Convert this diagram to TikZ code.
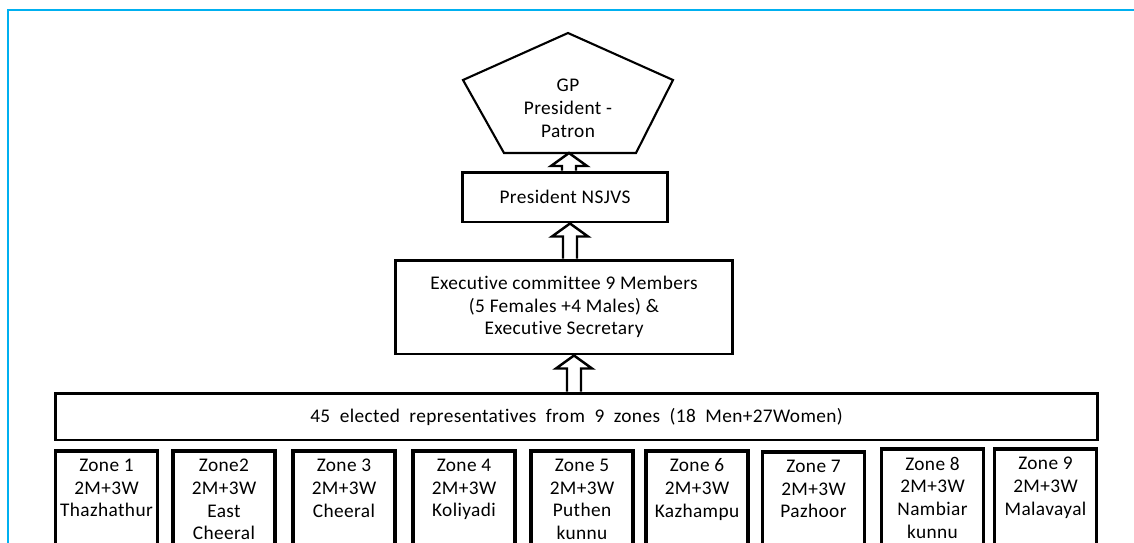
\documentclass[tikz,border=0pt]{standalone}
\usepackage{fontspec}
\setmainfont{Carlito}[Ligatures=NoCommon, LetterSpace=2]
\newfontfamily\widefont{Carlito}[Ligatures=NoCommon, LetterSpace=2, WordSpace=2]
\usetikzlibrary{calc}
\definecolor{framecol}{RGB}{0,176,240}

\begin{document}
\begin{tikzpicture}[x=0.02cm, y=-0.02cm,
    font=\fontsize{11}{13}\selectfont,
    box/.style={draw, line width=1.7pt, inner sep=0pt, align=center},
    zone/.style={draw, line width=2pt, anchor=north, minimum width=2.04cm, minimum height=2.26cm},
    zonetext/.style={anchor=north, inner sep=0pt, yshift=-5.4pt, align=center},
    uparrow/.style={line width=1.4pt, fill=white, to path={
        let \p1=(\tikztostart), \p2=(\tikztotarget) in
        (\x1-0.14cm,\y1) -- (\x1-0.14cm,\y2-0.26cm) -- (\x1-0.36cm,\y2-0.26cm)
        -- (\x1,\y2) -- (\x1+0.36cm,\y2-0.26cm) -- (\x1+0.14cm,\y2-0.26cm)
        -- (\x1+0.14cm,\y1)}}]
    \useasboundingbox (0,0) rectangle (1134,542);
    \clip (0,0) rectangle (1134,542);

    % --- Blue frame ---
    \draw[framecol, line width=1.4pt] (8,560) -- (8,10) -- (1150,10);

    % --- Pentagon on top ---
    \draw[line width=1.2pt] (568,33) -- (463,80) -- (504,153) -- (636,153) -- (673,80) -- cycle;
    \node[align=center, inner sep=0pt] (gp) at (568,108) {GP\\President -\\Patron};
    \coordinate (gpbase) at (568,153);

    % --- Boxes ---
    \node[box, minimum width=4.12cm, minimum height=1.0cm] (pres) at (565,197) {President NSJVS};
    \node[box, minimum width=6.76cm, minimum height=1.88cm] (exec) at (564,307)
        {Executive committee 9 Members\\(5 Females +4 Males) \&\\Executive Secretary};
    \node[box, minimum width=20.86cm, minimum height=0.94cm, font=\widefont\fontsize{11}{13}\selectfont] (reps) at (576.5,416.5)
        {45 elected representatives from 9 zones (18 Men+27Women)};

    % --- Zones ---
    \node[zone] (z1) at (106.5,449) {};
    \node[zonetext] (t1) at (z1.north) {Zone 1\\2M+3W\\Thazhathur};
    \node[zone] (z2) at (224,449) {};
    \node[zonetext] (t2) at (z2.north) {Zone2\\2M+3W\\East\\Cheeral};
    \node[zone] (z3) at (344,449) {};
    \node[zonetext] (t3) at (z3.north) {Zone 3\\2M+3W\\Cheeral};
    \node[zone] (z4) at (464,449) {};
    \node[zonetext] (t4) at (z4.north) {Zone 4\\2M+3W\\Koliyadi};
    \node[zone] (z5) at (582,449) {};
    \node[zonetext] (t5) at (z5.north) {Zone 5\\2M+3W\\Puthen\\kunnu};
    \node[zone] (z6) at (697,449) {};
    \node[zonetext] (t6) at (z6.north) {Zone 6\\2M+3W\\Kazhampu};
    \node[zone] (z7) at (813.5,450) {};
    \node[zonetext] (t7) at (z7.north) {Zone 7\\2M+3W\\Pazhoor};
    \node[zone] (z8) at (932.5,447) {};
    \node[zonetext] (t8) at (z8.north) {Zone 8\\2M+3W\\Nambiar\\kunnu};
    \node[zone] (z9) at (1045.5,447) {};
    \node[zonetext] (t9) at (z9.north) {Zone 9\\2M+3W\\Malavayal};

    % --- Hollow arrows ---
    \draw[uparrow] (reps.north -| 574,0) to (exec.south -| 574,0);
    \draw[uparrow] (exec.north -| 570,0) to (pres.south -| 570,0);
    \draw[uparrow] (pres.north -| 569,0) to (gpbase -| 569,0);
\end{tikzpicture}
\end{document}
